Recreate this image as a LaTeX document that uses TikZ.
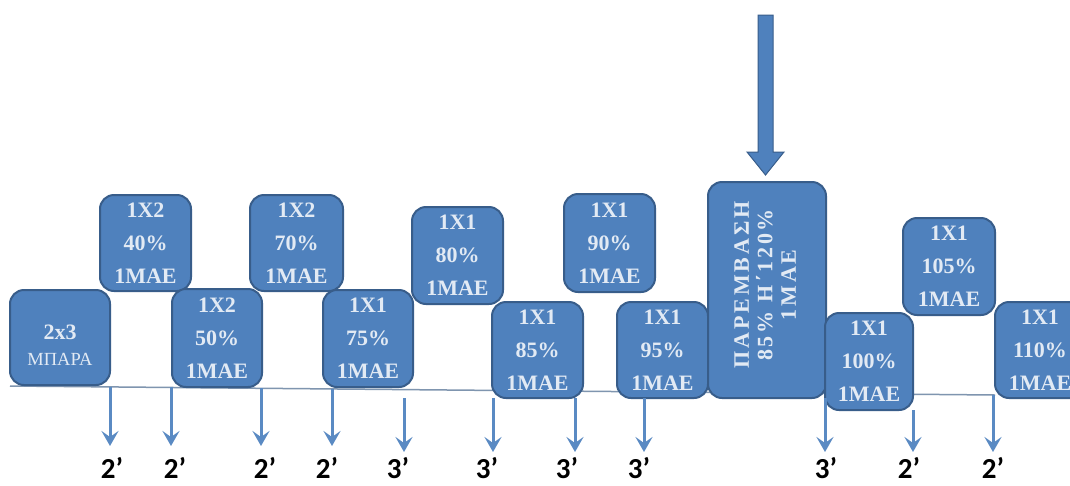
\documentclass[tikz,border=0pt]{standalone}
\usepackage{fontspec}
\setmainfont{Liberation Serif}
\newfontfamily\labfont{Carlito}
\newfontfamily\spacedbold[LetterSpace=13]{Liberation Serif Bold}
\usetikzlibrary{arrows.meta}
\definecolor{boxfill}{HTML}{4F81BD}
\definecolor{boxline}{HTML}{385D8A}
\definecolor{boxtext}{HTML}{E2EAF4}
\definecolor{arrowblue}{HTML}{5A8AC3}
\definecolor{baseline}{HTML}{7F95AF}
\begin{document}
\begin{tikzpicture}[x=1pt,y=-1pt,
  box/.style={draw=boxline, line width=2pt, fill=boxfill, rounded corners=14pt,
    inner sep=0pt, text=boxtext, align=center,
    font=\bfseries\fontsize{22}{33}\selectfont},
  smallarr/.style={draw=arrowblue, line width=3pt,
    -{Stealth[length=15pt,width=17pt,inset=6pt]}},
  lab/.style={font=\labfont\bfseries\fontsize{29}{29}\selectfont, text=black, inner sep=0pt},
  bigarrow/.style={fill=boxfill, draw=boxline, line width=1pt, line join=miter},
  baseln/.style={draw=baseline, line width=1.5pt}]
\useasboundingbox (0,0) rectangle (1070,485);
\clip (0,0) rectangle (1070,485);
\fill[white] (0,0) rectangle (1070,485);

% base line
\coordinate (lineL) at (10,386);
\coordinate (lineR) at (995,395);
\draw[baseln] (lineL) -- (lineR);

% boxes
\node[box, minimum width=100pt, minimum height=95pt] (A) at (60,337.5) {};
\node[text=boxtext, align=center, inner sep=0pt, font=\bfseries\fontsize{22}{26}\selectfont] (At) at (60,345)
  {2x3\\{\mdseries\fontsize{18.5}{26}\selectfont ΜΠΑΡΑ}};
\node[box, minimum width=91pt, minimum height=96pt] (B) at (145.5,243) {1X2\\40\%\\1ΜΑΕ};
\node[box, minimum width=90pt, minimum height=98pt] (C) at (217,338) {1X2\\50\%\\1ΜΑΕ};
\node[box, minimum width=93pt, minimum height=96pt] (D) at (296.5,243) {1X2\\70\%\\1ΜΑΕ};
\node[box, minimum width=90pt, minimum height=97pt] (E) at (368,338.5) {1X1\\75\%\\1ΜΑΕ};
\node[box, minimum width=91pt, minimum height=97pt] (F) at (457.5,255.5) {1X1\\80\%\\1ΜΑΕ};
\node[box, minimum width=91pt, minimum height=96pt] (G) at (537.5,350) {1X1\\85\%\\1ΜΑΕ};
\node[box, minimum width=91pt, minimum height=98pt] (H) at (609.5,243) {1X1\\90\%\\1ΜΑΕ};
\node[box, minimum width=91pt, minimum height=96pt] (I) at (662.5,350) {1X1\\95\%\\1ΜΑΕ};
\node[box, minimum width=118pt, minimum height=216pt] (J) at (767,290) {};
\node[rotate=90, text=boxtext, align=center, inner sep=0pt,
  font={\spacedbold\fontsize{22}{23.5}\selectfont}] (Jt) at (765,285)
  {ΠΑΡΕΜΒΑΣΗ\\85\% Η΄120\%\\1ΜΑΕ};
\node[box, minimum width=88pt, minimum height=97pt] (K) at (869,361.5) {1X1\\100\%\\1ΜΑΕ};
\node[box, minimum width=92pt, minimum height=97pt] (L) at (949,266.5) {1X1\\105\%\\1ΜΑΕ};
\node[box, minimum width=90pt, minimum height=96pt] (M) at (1040,350) {1X1\\110\%\\1ΜΑΕ};

% big arrow into J
\coordinate (bigtop) at (765.5,15);
\draw[bigarrow] (bigtop) ++(-7.5,0) -- ++(15,0) -- ++(0,137) -- ++(11,0)
  -- ++(-18.5,23) -- ++(-18.5,-23) -- ++(11,0) -- cycle;

% small arrows and time labels
\foreach \i/\x/\ys/\ye/\lx/\t in {
  1/110/387/446/112/2, 2/171/387/446/175/2, 3/261/388/446/265/2, 4/332/389/446/327/2,
  5/404/398/452/398/3, 6/493/398/452/487/3, 7/575/398/452/567/3, 8/644/398/452/639/3,
  9/825/398/452/826/3, 10/913/410/452/909/2, 11/993/395/452/993/2} {
  \coordinate (s\i) at (\x,\ys);
  \coordinate (e\i) at (\x,\ye);
  \draw[smallarr] (s\i) -- (e\i);
  \node[lab] (t\i) at (\lx,468) {\t’};
}
\end{tikzpicture}
\end{document}
